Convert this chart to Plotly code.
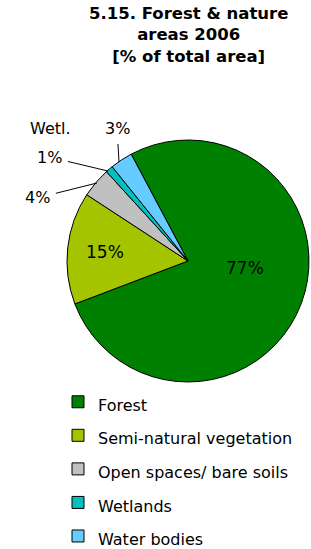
import plotly.graph_objects as go

categories = ["Forest", "Semi-natural vegetation", "Open spaces/ bare soils", "Wetlands", "Water bodies"]
values = [77, 15, 4, 1, 3]
colors = ["#008000", "#A4C400", "#C0C0C0", "#00C0C0", "#66CCFF"]

W, H = 311, 549
FONT = "DejaVu Sans"

fig = go.Figure(go.Pie(
    labels=['<span style="font-size:16px">%s</span>' % c for c in categories],
    values=values,
    sort=False,
    direction="clockwise",
    rotation=-28,
    marker=dict(colors=colors, line=dict(color="#000000", width=1)),
    textposition="none",
    domain=dict(x=[67 / W, 309 / W], y=[1 - 382 / H, 1 - 140 / H]),
    hoverinfo="skip",
))

def px(x, y):
    return x / W, 1 - y / H

lab = {c: "%d%%" % v for c, v in zip(categories, values)}
annots = []
# inside labels
for key, pos in [("Forest", (245, 268)), ("Semi-natural vegetation", (105, 252))]:
    x, y = px(*pos)
    annots.append(dict(x=x, y=y, xref="paper", yref="paper", text=lab[key], showarrow=False,
                       xanchor="center", yanchor="middle",
                       font=dict(family=FONT, size=17, color="#000000")))
# outside labels with leader lines
for key, tip, off in [("Open spaces/ bare soils", (97, 183), (-60, 15)),
                      ("Wetlands", (108, 171), (-59, -14)),
                      ("Water bodies", (119, 162), (-2, -34))]:
    x, y = px(*tip)
    annots.append(dict(x=x, y=y, xref="paper", yref="paper", text=lab[key],
                       ax=off[0], ay=off[1], showarrow=True, arrowhead=0,
                       arrowwidth=1, arrowcolor="#000000", startstandoff=5,
                       font=dict(family=FONT, size=16, color="#000000")))
x, y = px(50, 128)
annots.append(dict(x=x, y=y, xref="paper", yref="paper", text="Wetl.",
                   xanchor="center", yanchor="middle",
                   showarrow=False, font=dict(family=FONT, size=16, color="#000000")))
x, y = px(188, 2)
annots.append(dict(x=x, y=y, xref="paper", yref="paper", xanchor="center", yanchor="top",
                   text="<b>5.15. Forest & nature<br>areas 2006<br>[% of total area]</b>",
                   showarrow=False, font=dict(family=FONT, size=16.5, color="#000000")))

fig.update_layout(
    width=W, height=H,
    margin=dict(l=0, r=0, t=0, b=0, autoexpand=False),
    paper_bgcolor="white",
    legend=dict(orientation="v", x=58 / W, xanchor="left", y=-9 / H, yanchor="bottom",
                bgcolor="rgba(0,0,0,0)",
                font=dict(family=FONT, size=23.5, color="#000000"),
                itemclick=False, itemdoubleclick=False),
    annotations=annots,
    showlegend=True,
)

fig.write_html("out.html", config={"displayModeBar": False},
               post_script="document.body.style.margin='0';")
